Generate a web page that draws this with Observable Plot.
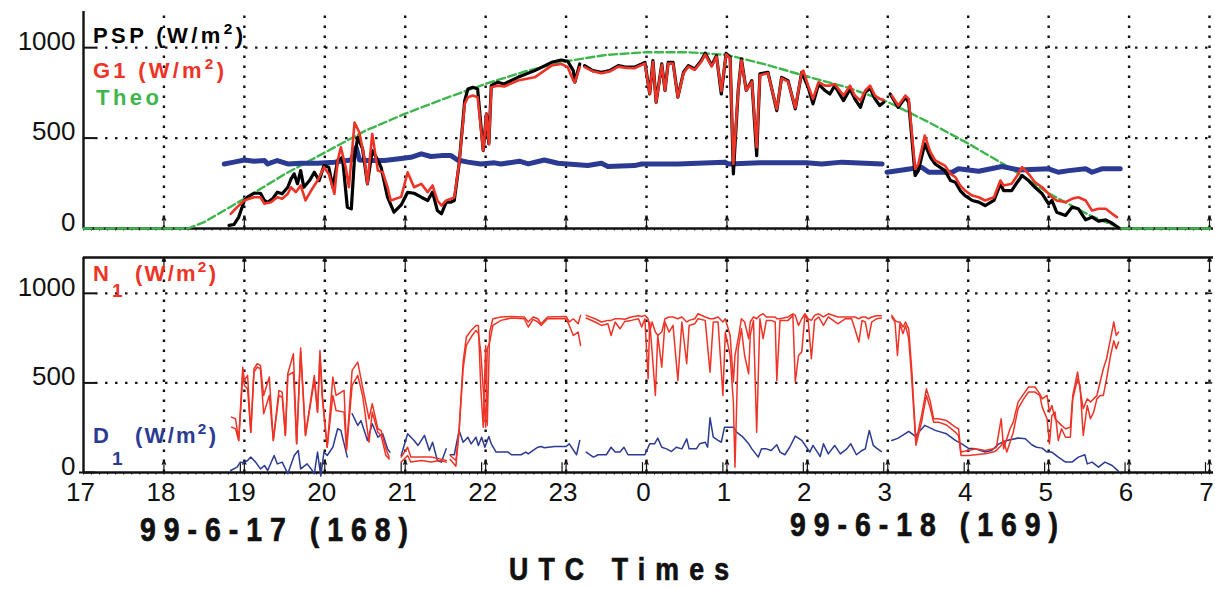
<!DOCTYPE html>
<html>
<head>
<meta charset="utf-8">
<script src="https://cdn.jsdelivr.net/npm/d3@7"></script>
<script src="https://cdn.jsdelivr.net/npm/@observablehq/plot@0.6"></script>
<style>
  body { margin: 0; background: #fff; }
  #chart { position: relative; width: 1215px; height: 589px; overflow: hidden; font-family: "Liberation Sans", Arial, sans-serif; }
  #chart svg { position: absolute; left: 0; overflow: visible; }
  .lab { position: absolute; white-space: nowrap; line-height: 0.8; font-weight: bold; transform-origin: 0 0; }
  .lab sup { font-size: 0.7em; line-height: 0; }
  .heavy { -webkit-text-stroke: 0.7px currentColor; }
</style>
</head>
<body>
<div id="chart"></div>
<script>
// Time axis: decimal UTC hours counted from 00 h on 1999-06-17 (so 24 = 00 h on 06-18).
const hourTicks = d3.range(17, 32);
const gridHours = d3.range(18, 32);
const minorTicks = d3.range(170, 311).map(d => d / 10);
const yTicks = [0, 500, 1000];
const yGrid = [500, 1000];

// Upper panel: theoretical clear-sky curve [time, W/m2]
const theo = [[17,0],[18.3,0],[18.5,35],[19,165],[19.5,300],[20,420],[20.5,540],[21,635],[21.5,720],[22,800],
  [22.5,870],[23,925],[23.5,960],[24,975],[24.5,975],[25,960],[25.5,905],[26,840],[26.5,780],[27,700],
  [27.5,590],[28,470],[28.5,340],[29,195],[29.5,75],[29.9,0],[31.05,0]];

// Upper panel: PSP pyranometer [time, W/m2]
const psp = [[18.81,17],[18.87,22],[18.93,63],[19.00,155],[19.04,173],[19.12,195],[19.20,195],[19.25,155],[19.29,145],
  [19.35,164],[19.41,201],[19.47,192],[19.54,228],[19.58,274],[19.62,302],[19.66,247],[19.70,320],[19.74,228],
  [19.81,265],[19.87,311],[19.93,265],[19.99,348],[20.05,339],[20.10,228],[20.16,376],[20.22,394],[20.28,118],
  [20.33,109],[20.37,394],[20.41,505],[20.47,440],[20.53,247],[20.59,431],[20.64,394],[20.70,339],[20.78,173],
  [20.86,90],[20.95,130],[21.03,200],[21.11,195],[21.20,173],[21.28,155],[21.34,201],[21.40,99],[21.45,81],
  [21.51,146],[21.57,146],[21.61,155],[21.67,357],[21.74,707],[21.78,772],[21.84,781],[21.90,772],[21.97,431],
  [22.01,634],[22.04,468],[22.07,790],[22.15,809],[22.23,799],[22.40,836],[22.61,873],[22.82,919],[22.94,932],
  [23.02,925],[23.09,873],[23.11,809],[23.17,910],[23.20,null],[23.23,901],[23.33,873],[23.44,864],[23.54,873],
  [23.65,901],[23.75,892],[23.85,892],[23.94,910],[23.98,919],[24.04,744],[24.08,928],[24.12,698],[24.19,910],
  [24.23,763],[24.27,919],[24.33,919],[24.39,726],[24.46,864],[24.52,901],[24.60,882],[24.68,928],[24.73,969],
  [24.81,901],[24.87,956],[24.93,744],[24.99,969],[25.04,947],[25.08,302],[25.14,763],[25.18,938],[25.24,763],
  [25.31,818],[25.37,403],[25.41,855],[25.51,864],[25.62,652],[25.68,836],[25.76,818],[25.85,661],[25.93,864],
  [26.01,781],[26.07,689],[26.14,799],[26.22,763],[26.28,744],[26.34,790],[26.45,707],[26.53,772],[26.59,717],
  [26.66,670],[26.72,753],[26.78,777],[26.84,717],[26.90,680],[26.95,698],[26.99,null],[27.03,744],[27.13,670],
  [27.22,726],[27.26,698],[27.34,293],[27.38,320],[27.46,468],[27.53,394],[27.59,357],[27.71,320],[27.78,265],
  [27.84,256],[27.90,210],[27.96,182],[28.05,155],[28.13,146],[28.21,127],[28.32,155],[28.40,247],[28.44,210],
  [28.54,210],[28.61,256],[28.67,293],[28.75,265],[28.83,228],[28.92,192],[29.00,136],[29.04,155],[29.10,90],
  [29.21,72],[29.29,118],[29.37,109],[29.46,48],[29.54,63],[29.62,41],[29.71,48],[29.79,29],[29.87,4]];

// Upper panel: G1 [time, W/m2]
const g1 = [[18.83,81],[18.91,118],[19.00,155],[19.06,164],[19.12,173],[19.20,173],[19.25,137],[19.33,145],[19.41,173],
  [19.47,164],[19.54,192],[19.58,228],[19.64,201],[19.70,238],[19.76,155],[19.83,210],[19.91,265],[19.99,339],
  [20.05,302],[20.12,192],[20.16,376],[20.20,449],[20.26,339],[20.30,228],[20.37,586],[20.43,531],[20.49,394],
  [20.53,247],[20.59,523],[20.66,320],[20.72,311],[20.78,228],[20.82,155],[20.95,175],[21.03,311],[21.11,228],
  [21.20,247],[21.28,201],[21.34,238],[21.40,155],[21.45,127],[21.51,155],[21.57,164],[21.61,173],[21.67,357],
  [21.74,689],[21.78,726],[21.84,735],[21.90,726],[21.97,431],[22.01,634],[22.04,468],[22.07,781],[22.15,790],
  [22.23,785],[22.40,818],[22.61,836],[22.82,901],[22.94,910],[23.02,892],[23.09,818],[23.11,809],[23.17,892],
  [23.20,null],[23.23,892],[23.33,870],[23.44,858],[23.54,868],[23.65,895],[23.75,888],[23.85,886],[23.94,905],
  [23.98,912],[24.04,744],[24.08,920],[24.12,698],[24.19,905],[24.23,763],[24.27,912],[24.33,912],[24.39,726],
  [24.46,858],[24.52,895],[24.60,878],[24.68,922],[24.73,962],[24.81,896],[24.87,950],[24.93,760],[24.99,962],
  [25.04,940],[25.08,357],[25.14,763],[25.18,930],[25.24,763],[25.31,812],[25.37,449],[25.41,848],[25.51,858],
  [25.62,660],[25.68,830],[25.76,812],[25.85,668],[25.93,864],[25.95,873],[26.01,790],[26.07,717],[26.14,809],
  [26.22,790],[26.28,790],[26.34,799],[26.45,735],[26.53,790],[26.59,735],[26.66,707],[26.72,763],[26.78,790],
  [26.84,735],[26.90,717],[26.95,711],[26.99,null],[27.05,735],[27.13,680],[27.22,735],[27.26,717],[27.34,330],
  [27.38,357],[27.46,514],[27.53,422],[27.59,376],[27.71,348],[27.78,302],[27.84,284],[27.90,238],[27.96,210],
  [28.05,182],[28.13,173],[28.21,155],[28.32,173],[28.40,265],[28.44,238],[28.54,247],[28.61,293],[28.67,339],
  [28.75,302],[28.83,256],[28.92,228],[29.00,192],[29.04,173],[29.10,155],[29.21,146],[29.29,164],[29.37,173],
  [29.46,155],[29.54,99],[29.62,109],[29.71,109],[29.79,81],[29.85,63]];

// Upper panel: heavy blue trace [time, W/m2]
const upperBlue = [[18.75,357],[18.87,367],[19.00,379],[19.12,372],[19.25,376],[19.29,357],[19.41,376],[19.54,357],
  [19.70,361],[19.91,361],[20.12,367],[20.33,379],[20.39,449],[20.43,379],[20.53,376],[20.74,376],[20.95,387],
  [21.07,394],[21.20,413],[21.32,398],[21.45,403],[21.57,403],[21.65,379],[21.78,367],[21.94,357],[22.11,363],
  [22.19,357],[22.42,372],[22.53,357],[22.73,379],[22.90,361],[23.02,357],[23.27,348],[23.44,361],[23.52,343],
  [23.85,348],[23.94,357],[24.39,357],[24.97,367],[25.02,357],[25.41,363],[25.99,363],[26.18,357],[26.43,367],
  [26.93,357],[26.96,null],[26.99,311],[27.42,339],[27.51,311],[27.80,311],[27.88,330],[28.13,317],[28.42,343],
  [28.63,324],[29.00,330],[29.12,311],[29.25,320],[29.46,330],[29.54,311],[29.66,330],[29.89,330]];

// Lower panel: N1, two traces per row [time, upper, lower] (W/m2)
const n1 = [[18.84,309,253],[18.89,300,244],[18.93,179,179],[18.98,588,542],[19.00,514,486],[19.04,542,467],
  [19.08,225,225],[19.12,579,560],[19.16,607,588],[19.20,598,579],[19.24,430,328],[19.31,533,430],[19.36,179,179],
  [19.43,458,430],[19.47,449,421],[19.51,207,207],[19.54,551,542],[19.61,663,560],[19.65,160,160],[19.70,695,672],
  [19.76,207,207],[19.87,542,514],[19.91,337,337],[19.94,681,654],[19.97,430,411],[20.03,141,141],[20.10,533,430],
  [20.14,430,346],[20.24,458,337],[20.27,132,123],[20.34,570,486],[20.41,616,542],[20.47,477,430],[20.55,300,169],
  [20.59,384,337],[20.66,244,225],[20.70,235,207],[20.76,132,95],[20.80,86,76],[20.88,null,null],[20.95,86,58],
  [21.03,141,95],[21.07,86,58],[21.20,86,67],[21.32,86,58],[21.43,76,67],[21.51,67,58],[21.54,null,null],
  [21.56,95,73],[21.63,67,35],[21.67,235,235],[21.72,616,579],[21.76,756,709],[21.82,793,756],[21.88,821,793],
  [21.91,821,775],[21.94,467,672],[21.97,253,467],[22.00,709,253],[22.02,263,691],[22.05,784,728],[22.09,858,821],
  [22.19,868,849],[22.32,871,862],[22.48,868,858],[22.53,840,812],[22.59,868,855],[22.65,858,840],[22.69,830,821],
  [22.77,868,858],[23.00,871,858],[23.04,840,821],[23.09,858,765],[23.15,830,784],[23.18,877,709],[23.21,null,null],
  [23.25,877,862],[23.36,858,840],[23.44,840,821],[23.52,849,830],[23.56,849,765],[23.61,858,840],[23.67,858,802],
  [23.73,855,843],[23.81,868,849],[23.90,875,858],[23.94,871,812],[23.98,877,858],[24.02,858,523],[24.04,784,840],
  [24.07,840,672],[24.11,784,430],[24.14,765,765],[24.19,784,588],[24.23,858,840],[24.28,868,784],[24.33,868,821],
  [24.39,858,514],[24.44,868,840],[24.50,840,607],[24.53,849,821],[24.60,858,830],[24.64,886,858],[24.73,868,849],
  [24.79,858,560],[24.83,858,840],[24.89,868,840],[24.95,840,430],[24.98,858,784],[25.04,765,653],[25.08,505,393],
  [25.10,653,30],[25.14,747,691],[25.18,858,802],[25.22,840,653],[25.27,747,551],[25.29,840,765],[25.33,868,849],
  [25.37,858,225],[25.41,877,858],[25.45,886,747],[25.49,868,849],[25.55,868,849],[25.60,868,840],[25.62,858,514],
  [25.66,858,849],[25.76,868,849],[25.82,886,877],[25.85,877,505],[25.89,821,653],[25.93,858,672],[25.97,886,877],
  [26.01,858,849],[26.05,849,635],[26.09,877,849],[26.14,886,868],[26.20,868,821],[26.26,886,868],[26.38,868,830],
  [26.47,868,858],[26.55,868,858],[26.59,868,802],[26.64,858,728],[26.68,868,849],[26.72,868,840],[26.76,858,747],
  [26.80,868,840],[26.86,875,858],[26.92,875,862],[26.98,null,null],[27.05,877,868],[27.09,849,840],[27.12,840,653],
  [27.15,840,830],[27.19,812,775],[27.22,840,821],[27.26,802,747],[27.30,561,505],[27.35,169,151],[27.42,318,281],
  [27.48,467,430],[27.53,393,356],[27.57,300,281],[27.63,300,281],[27.73,290,265],[27.84,253,225],[27.88,244,207],
  [27.91,114,95],[28.00,123,95],[28.09,132,99],[28.21,123,104],[28.31,132,114],[28.35,141,123],[28.41,300,151],
  [28.44,132,179],[28.48,188,114],[28.52,244,169],[28.56,281,225],[28.62,393,356],[28.69,439,411],[28.75,477,449],
  [28.83,477,449],[28.89,439,430],[28.92,411,365],[28.98,430,300],[29.01,337,160],[29.04,374,318],[29.08,300,337],
  [29.12,281,179],[29.16,263,244],[29.21,244,197],[29.27,253,197],[29.30,430,411],[29.36,561,523],[29.39,467,486],
  [29.43,356,207],[29.48,411,374],[29.52,393,300],[29.56,411,337],[29.60,430,411],[29.64,505,430],[29.68,579,430],
  [29.72,635,523],[29.77,747,653],[29.81,840,735],[29.84,765,691],[29.87,784,728]];

// Lower panel: D1 [time, W/m2]
const d1 = [[18.83,11],[18.91,30],[18.95,58],[18.99,54],[19.04,67],[19.08,86],[19.14,58],[19.20,20],[19.25,39],
  [19.29,11],[19.37,95],[19.41,48],[19.47,58],[19.54,-7],[19.62,95],[19.67,123],[19.70,20],[19.78,48],[19.83,20],
  [19.87,-7],[19.91,114],[19.95,-20],[19.99,114],[20.03,95],[20.10,141],[20.16,244],[20.20,235],[20.28,86],
  [20.31,null],[20.34,328],[20.41,263],[20.45,290],[20.53,179],[20.59,272],[20.66,197],[20.72,216],[20.78,132],
  [20.81,114],[20.88,null],[20.95,95],[21.03,216],[21.11,179],[21.16,151],[21.24,207],[21.30,123],[21.34,169],
  [21.40,67],[21.45,58],[21.51,132],[21.54,null],[21.56,99],[21.61,99],[21.67,235],[21.72,169],[21.78,197],
  [21.82,160],[21.88,197],[21.91,151],[21.95,197],[21.99,141],[22.04,201],[22.07,160],[22.13,114],[22.28,114],
  [22.32,99],[22.44,99],[22.50,114],[22.53,104],[22.59,123],[22.65,141],[22.69,145],[22.73,138],[22.86,145],
  [23.00,145],[23.04,160],[23.13,99],[23.17,179],[23.21,null],[23.25,114],[23.34,86],[23.40,99],[23.50,99],
  [23.56,141],[23.61,114],[23.67,114],[23.72,141],[23.77,99],[23.98,99],[24.04,160],[24.10,160],[24.14,192],
  [24.19,141],[24.25,132],[24.31,117],[24.37,141],[24.44,132],[24.50,188],[24.53,132],[24.62,132],[24.66,160],
  [24.73,169],[24.76,141],[24.79,305],[24.83,197],[24.89,179],[24.93,169],[24.97,253],[25.02,253],[25.08,253],
  [25.12,225],[25.20,197],[25.27,160],[25.31,132],[25.39,86],[25.43,132],[25.49,132],[25.55,123],[25.62,155],
  [25.66,114],[25.72,99],[25.78,141],[25.85,203],[25.93,179],[25.99,141],[26.03,114],[26.07,151],[26.16,89],
  [26.20,160],[26.26,104],[26.34,151],[26.41,104],[26.49,132],[26.54,160],[26.61,99],[26.68,123],[26.72,132],
  [26.77,235],[26.82,151],[26.86,136],[26.92,117],[26.98,null],[27.05,179],[27.13,192],[27.26,229],[27.34,203],
  [27.46,263],[27.59,235],[27.73,216],[27.84,179],[27.92,160],[28.00,136],[28.09,132],[28.21,114],[28.29,123],
  [28.38,160],[28.48,179],[28.62,192],[28.71,188],[28.79,155],[28.85,141],[28.92,136],[28.98,114],[29.04,114],
  [29.12,86],[29.21,58],[29.29,58],[29.37,86],[29.45,99],[29.48,48],[29.54,58],[29.62,30],[29.70,58],[29.79,39],
  [29.87,6]];

const RED = "#ee3427", BLUE = "#2b3a93", GREEN = "#3fb54d", INK = "#111";
const FONT = '"Liberation Sans", Arial, sans-serif';
const dotted = {stroke: INK, strokeWidth: 2.4, strokeDasharray: "2.4,7.6"};
const X = {domain: [17, 31], axis: null};
const Y = {domain: [0, 1200], axis: null};
const hourLabel = h => String(h % 24);

const chart = document.getElementById("chart");

function frameMarks(vgridTop) {
  return [
    Plot.ruleY(yGrid, {x1: 17.15, x2: 31, ...dotted}),
    Plot.ruleX(gridHours, {y1: 0, y2: vgridTop, ...dotted}),
    Plot.ruleY(yTicks, {x1: 17, x2: 17.15, stroke: INK, strokeWidth: 2}),
    Plot.ruleX(minorTicks, {y1: 0, y2: -14, stroke: INK, strokeWidth: 1}),
    Plot.arrow(gridHours, {x1: d => d, x2: d => d, y1: 0, y2: 66, headLength: 5, headAngle: 50, stroke: INK, strokeWidth: 1.2}),
    Plot.ruleX([17], {y1: 0, y2: 1200, stroke: INK, strokeWidth: 2.4}),
    Plot.ruleY([0], {x1: 17, x2: 31.05, stroke: INK, strokeWidth: 2.4}),
    Plot.text(yTicks, {x: 17, y: d => d, text: d => String(d), textAnchor: "end", dx: -8, dy: -6,
      fontSize: 26, fontFamily: FONT, fill: INK})
  ];
}

// Upper panel: PSP, G1, theoretical curve
const upper = Plot.plot({
  width: 1215, height: 240,
  marginLeft: 83, marginRight: 6, marginTop: 11, marginBottom: 12,
  x: X, y: Y,
  style: {background: "transparent", overflow: "visible"},
  marks: [
    ...frameMarks(1180),
    Plot.line(theo, {x: d => d[0], y: d => d[1], stroke: GREEN, strokeWidth: 2.4, strokeDasharray: "8,3.5"}),
    Plot.line(upperBlue, {x: d => d[0], y: d => d[1], stroke: BLUE, strokeWidth: 5, strokeLinejoin: "round", strokeLinecap: "round"}),
    Plot.line(psp, {x: d => d[0], y: d => d[1], stroke: "#000", strokeWidth: 3.2, strokeLinejoin: "round"}),
    Plot.line(g1, {x: d => d[0], y: d => d[1], stroke: RED, strokeWidth: 2.6, strokeLinejoin: "round"})
  ]
});
upper.style.top = "0px";
chart.appendChild(upper);

// Lower panel: N1 (two traces) and D1
const lower = Plot.plot({
  width: 1215, height: 272,
  marginLeft: 83, marginRight: 6, marginTop: 17, marginBottom: 40,
  x: X, y: Y,
  style: {background: "transparent", overflow: "visible"},
  marks: [
    ...frameMarks(1200),
    Plot.ruleX(gridHours.slice(1), {x: d => d - 0.05, y1: 0, y2: 55, stroke: INK, strokeWidth: 1.2}),
    Plot.arrow(gridHours, {x1: d => d, x2: d => d, y1: 1130, y2: 1200, headLength: 5, headAngle: 50, stroke: INK, strokeWidth: 1.2}),
    Plot.ruleY([1200], {x1: 17, x2: 31.05, stroke: INK, strokeWidth: 2.4}),
    Plot.ruleY([0], {x1: 16.95, x2: 17, stroke: INK, strokeWidth: 2}),
    Plot.ruleY(yGrid, {x1: 30.96, x2: 31.04, stroke: INK, strokeWidth: 1.5}),
    Plot.text(hourTicks, {x: d => d, y: 0, text: hourLabel, dy: 20, dx: -3, fontSize: 26, fontFamily: FONT, fill: INK}),
    Plot.line(d1, {x: d => d[0], y: d => d[1], stroke: BLUE, strokeWidth: 1.5, strokeLinejoin: "round"}),
    Plot.line(n1, {x: d => d[0], y: d => d[1], stroke: RED, strokeWidth: 1.5, strokeLinejoin: "round"}),
    Plot.line(n1, {x: d => d[0], y: d => d[2], stroke: RED, strokeWidth: 1.5, strokeLinejoin: "round"})
  ]
});
lower.style.top = "240px";
chart.appendChild(lower);

// Text labels: x = left edge, base = baseline (px), width = ink width to fit (via letter spacing),
// squeeze = horizontal glyph scale.
function label(html, x, base, size, color, width, squeeze = 1, cls = "") {
  const el = document.createElement("div");
  el.className = "lab " + cls;
  el.innerHTML = html;
  el.style.left = x + "px";
  el.style.top = (base - 0.7465 * size) + "px";
  el.style.fontSize = size + "px";
  el.style.color = color;
  if (squeeze !== 1) el.style.transform = `scaleX(${squeeze})`;
  chart.appendChild(el);
  if (width) {
    const n = el.textContent.length;
    const natural = el.getBoundingClientRect().width / squeeze;
    const spacing = (width / squeeze - natural) / Math.max(1, n - 1);
    el.style.letterSpacing = spacing.toFixed(2) + "px";
  }
}
const SUP = '<sup style="vertical-align:9px">2</sup>';
label("PSP (W/m" + SUP + ")", 93, 43, 22, "#000", 150);
label("G1 (W/m" + SUP + ")", 93, 78, 22, RED, 131);
label("Theo", 96, 105, 22, GREEN, 63);
label("N", 93, 281, 22, RED);
label("1", 112, 297, 19, RED);
label("(W/m" + SUP + ")", 135, 281, 22, RED, 81);
label("D", 93, 443, 22, BLUE);
label("1", 112, 465, 19, BLUE);
label("(W/m" + SUP + ")", 135, 443, 22, BLUE, 81);

label("99-6-17 (168)", 140, 542, 33, "#111", 268, 0.86, "heavy");
label("99-6-18 (169)", 790, 537, 33, "#111", 268, 0.86, "heavy");
label("UTC Times", 509, 581, 31, "#111", 220, 0.86, "heavy");
</script>
</body>
</html>
